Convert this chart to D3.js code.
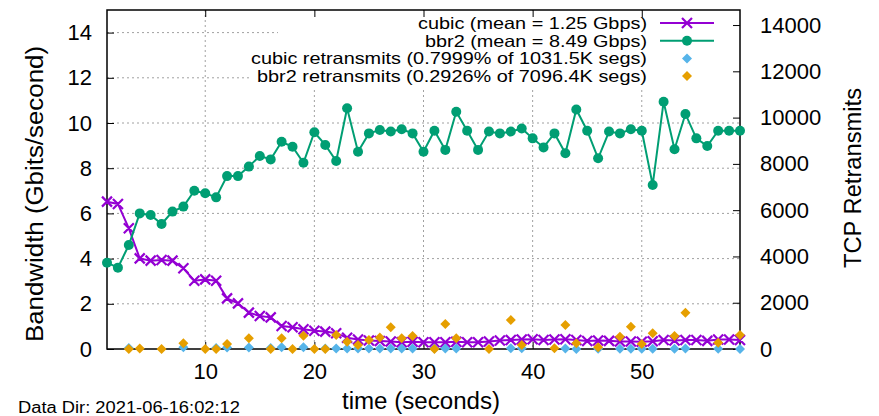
<!DOCTYPE html>
<html>
<head>
<meta charset="utf-8">
<script src="https://cdn.jsdelivr.net/npm/d3@7"></script>
<style>
  body { margin: 0; background: #fff; }
  svg { display: block; font-family: "Liberation Sans", Arial, sans-serif; }
</style>
</head>
<body>
<div id="chart"></div>
<script>
// seconds 1..59
const times = d3.range(1, 60);

// throughput, Gbits/s
const cubicGbps = [
  6.52, 6.42, 5.34, 4.01, 3.91, 3.94, 3.91, 3.57, 3.02, 3.08,
  3.02, 2.24, 2.02, 1.61, 1.46, 1.40, 1.02, 0.96, 0.87, 0.81,
  0.77, 0.70, 0.50, 0.42, 0.38, 0.35, 0.33, 0.30, 0.32, 0.30,
  0.30, 0.30, 0.32, 0.30, 0.30, 0.33, 0.38, 0.40, 0.42, 0.43,
  0.40, 0.42, 0.43, 0.40, 0.35, 0.38, 0.36, 0.33, 0.33, 0.32,
  0.34, 0.40, 0.38, 0.40, 0.40, 0.36, 0.42, 0.42, 0.40
];
const bbr2Gbps = [
  3.82, 3.60, 4.60, 6.00, 5.93, 5.53, 6.08, 6.30, 7.00, 6.89,
  6.71, 7.65, 7.65, 8.07, 8.54, 8.39, 9.17, 8.95, 8.24, 9.59,
  9.03, 8.32, 10.65, 8.73, 9.54, 9.69, 9.62, 9.72, 9.54, 8.73,
  9.66, 8.81, 10.50, 9.66, 8.81, 9.62, 9.54, 9.62, 9.76, 9.32,
  8.92, 9.54, 8.66, 10.60, 9.66, 8.44, 9.62, 9.54, 9.72, 9.66,
  7.26, 10.94, 8.84, 10.40, 9.32, 8.98, 9.66, 9.66, 9.66
];

// retransmits per second (only the seconds that show a point)
const cubicRetrTimes = [3, 8, 11, 12, 14, 16, 17, 19, 21, 22, 23, 24, 25, 26, 27, 28, 29, 31, 32, 33,
  38, 39, 43, 44, 46, 48, 49, 50, 51, 53, 54, 57, 59];
const cubicRetrSegs = [40, 80, 40, 60, 60, 40, 80, 80, 20, 20, 20, 20, 20, 20, 20, 20, 20, 20, 20, 20,
  30, 30, 20, 0, 10, 10, 10, 10, 10, 10, 20, 10, 0];
const bbr2RetrTimes = [3, 4, 6, 8, 10, 11, 12, 14, 16, 17, 18, 19, 20, 21, 22, 23, 24, 25, 26, 27,
  28, 29, 31, 32, 33, 36, 38, 39, 42, 43, 44, 46, 48, 49, 50, 51, 53, 54, 57, 59];
const bbr2RetrSegs = [0, 20, 0, 250, 0, 0, 215, 460, 0, 460, 0, 575, 0, 0, 600, 315, 170, 390, 500, 940,
  460, 560, 0, 1080, 460, 0, 1250, 170, 30, 1040, 245, 75, 530, 965, 215, 680, 560, 1570, 275, 600];

const xTicks = [10, 20, 30, 40, 50];
const yTicks = [0, 2, 4, 6, 8, 10, 12, 14];
const y2Ticks = [0, 2000, 4000, 6000, 8000, 10000, 12000, 14000];

const legendLabels = [
  "cubic (mean = 1.25 Gbps)",
  "bbr2 (mean = 8.49 Gbps)",
  "cubic retransmits (0.7999% of 1031.5K segs)",
  "bbr2 retransmits (0.2926% of 7096.4K segs)"
];
// measured text widths in the reference
const legendWidths = [229, 222, 396, 390];

const COLORS = { cubic: "#9400d3", bbr2: "#009e73", cubicR: "#56b4e9", bbr2R: "#e69f00" };

const width = 879, height = 416;
const margin = { top: 10, right: 139, bottom: 67, left: 107 };

const svg = d3.select("#chart").append("svg")
  .attr("width", width)
  .attr("height", height);

const x = d3.scaleLinear().domain([1, 59]).range([margin.left, width - margin.right]);
const y = d3.scaleLinear().domain([0, 15]).range([height - margin.bottom, margin.top]);
const y2 = d3.scaleLinear().domain([0, 14650]).range([height - margin.bottom, margin.top]);

const x0 = x.range()[0], x1 = x.range()[1];
const yb = y.range()[0], yt = y.range()[1];

// grid
const grid = svg.append("g")
  .attr("stroke", "#a0a0a0")
  .attr("stroke-width", 1)
  .attr("stroke-dasharray", "2,3");
grid.selectAll("line.h").data(yTicks.filter(d => d > 0)).join("line")
  .attr("class", "h")
  .attr("x1", x0).attr("x2", x1)
  .attr("y1", d => y(d)).attr("y2", d => y(d));
grid.selectAll("line.v").data(xTicks).join("line")
  .attr("class", "v")
  .attr("x1", d => x(d)).attr("x2", d => x(d))
  .attr("y1", yt).attr("y2", yb);

// key box (opaque)
svg.append("rect").attr("x", 278).attr("y", yt + 1).attr("width", x1 - 279).attr("height", 38).attr("fill", "#fff");
svg.append("rect").attr("x", 250).attr("y", yt + 38).attr("width", x1 - 251).attr("height", 40).attr("fill", "#fff");

// axes, ticks pointing inward like gnuplot
function styleAxis(g, size) {
  g.select(".domain").remove();
  g.selectAll(".tick line").attr("stroke", "#000").attr("stroke-width", 1);
  g.selectAll(".tick text")
    .attr("fill", "#000")
    .style("font-size", size + "px")
    .style("font-family", "Liberation Sans, Arial, sans-serif");
}

svg.append("g")
  .attr("transform", `translate(${x0},0)`)
  .call(d3.axisLeft(y).tickValues(yTicks).tickSize(-7).tickPadding(15))
  .call(g => styleAxis(g, 22));

svg.append("g")
  .attr("transform", `translate(${x1},0)`)
  .call(d3.axisRight(y2).tickValues(y2Ticks).tickFormat(d3.format("d")).tickSize(-7).tickPadding(20))
  .call(g => styleAxis(g, 22));

svg.append("g")
  .attr("transform", `translate(0,${yb})`)
  .call(d3.axisBottom(x).tickValues(xTicks).tickSize(-7).tickPadding(14))
  .call(g => styleAxis(g, 22));

svg.append("g")
  .attr("transform", `translate(0,${yt})`)
  .call(d3.axisTop(x).tickValues(xTicks).tickSize(-7).tickFormat(""))
  .call(g => styleAxis(g, 22));

// border
svg.append("rect")
  .attr("x", x0).attr("y", yt)
  .attr("width", x1 - x0).attr("height", yb - yt)
  .attr("fill", "none").attr("stroke", "#000").attr("stroke-width", 1.5);

// marker helpers
function crossPath(cx, cy, r) {
  return `M${cx - r},${cy - r}L${cx + r},${cy + r}M${cx - r},${cy + r}L${cx + r},${cy - r}`;
}
function diamondPath(cx, cy, r) {
  return `M${cx},${cy - r}L${cx + r},${cy}L${cx},${cy + r}L${cx - r},${cy}Z`;
}

const line = d3.line().x(d => x(d[0])).y(d => y(d[1]));

// cubic
const cubicData = times.map((t, i) => [t, cubicGbps[i]]);
svg.append("path").datum(cubicData)
  .attr("d", line).attr("fill", "none")
  .attr("stroke", COLORS.cubic).attr("stroke-width", 2);
svg.append("path")
  .attr("d", cubicData.map(d => crossPath(x(d[0]), y(d[1]), 5)).join(""))
  .attr("stroke", COLORS.cubic).attr("stroke-width", 2.2).attr("fill", "none");

// bbr2
const bbrData = times.map((t, i) => [t, bbr2Gbps[i]]);
svg.append("path").datum(bbrData)
  .attr("d", line).attr("fill", "none")
  .attr("stroke", COLORS.bbr2).attr("stroke-width", 2);
svg.append("g").selectAll("circle").data(bbrData).join("circle")
  .attr("cx", d => x(d[0])).attr("cy", d => y(d[1])).attr("r", 5)
  .attr("fill", COLORS.bbr2);

// retransmits on y2
svg.append("g").selectAll("path").data(cubicRetrTimes.map((t, i) => [t, cubicRetrSegs[i]])).join("path")
  .attr("d", d => diamondPath(x(d[0]), y2(d[1]), 5))
  .attr("fill", COLORS.cubicR);
svg.append("g").selectAll("path").data(bbr2RetrTimes.map((t, i) => [t, bbr2RetrSegs[i]])).join("path")
  .attr("d", d => diamondPath(x(d[0]), y2(d[1]), 5))
  .attr("fill", COLORS.bbr2R);

// key
const key = svg.append("g").style("font-size", "16.5px");
const rowY = [23, 40.7, 58.4, 76];
const sx0 = 660, sx1 = 714, sxm = 687;
key.selectAll("text").data(legendLabels).join("text")
  .attr("x", 647).attr("y", (d, i) => rowY[i])
  .attr("dy", "0.36em")
  .attr("text-anchor", "end")
  .attr("textLength", (d, i) => legendWidths[i])
  .attr("lengthAdjust", "spacingAndGlyphs")
  .text(d => d);
key.append("line").attr("x1", sx0).attr("x2", sx1).attr("y1", rowY[0]).attr("y2", rowY[0])
  .attr("stroke", COLORS.cubic).attr("stroke-width", 2);
key.append("path").attr("d", crossPath(sxm, rowY[0], 5))
  .attr("stroke", COLORS.cubic).attr("stroke-width", 2.2);
key.append("line").attr("x1", sx0).attr("x2", sx1).attr("y1", rowY[1]).attr("y2", rowY[1])
  .attr("stroke", COLORS.bbr2).attr("stroke-width", 2);
key.append("circle").attr("cx", sxm).attr("cy", rowY[1]).attr("r", 5).attr("fill", COLORS.bbr2);
key.append("path").attr("d", diamondPath(sxm, rowY[2], 5)).attr("fill", COLORS.cubicR);
key.append("path").attr("d", diamondPath(sxm, rowY[3], 5)).attr("fill", COLORS.bbr2R);

// axis titles
svg.append("text")
  .attr("transform", `translate(43,194) rotate(-90)`)
  .attr("text-anchor", "middle")
  .attr("textLength", 296)
  .attr("lengthAdjust", "spacingAndGlyphs")
  .style("font-size", "23px")
  .text("Bandwidth (Gbits/second)");

svg.append("text")
  .attr("transform", `translate(853,178) rotate(-90)`)
  .attr("text-anchor", "middle")
  .attr("dy", "0.35em")
  .attr("textLength", 180)
  .attr("lengthAdjust", "spacingAndGlyphs")
  .style("font-size", "23px")
  .text("TCP Retransmits");

svg.append("text")
  .attr("x", 421).attr("y", 409)
  .attr("text-anchor", "middle")
  .attr("textLength", 158)
  .attr("lengthAdjust", "spacingAndGlyphs")
  .style("font-size", "23px")
  .text("time (seconds)");

svg.append("text")
  .attr("x", 18).attr("y", 413)
  .attr("textLength", 222)
  .attr("lengthAdjust", "spacingAndGlyphs")
  .style("font-size", "16px")
  .text("Data Dir: 2021-06-16:02:12");
</script>
</body>
</html>
